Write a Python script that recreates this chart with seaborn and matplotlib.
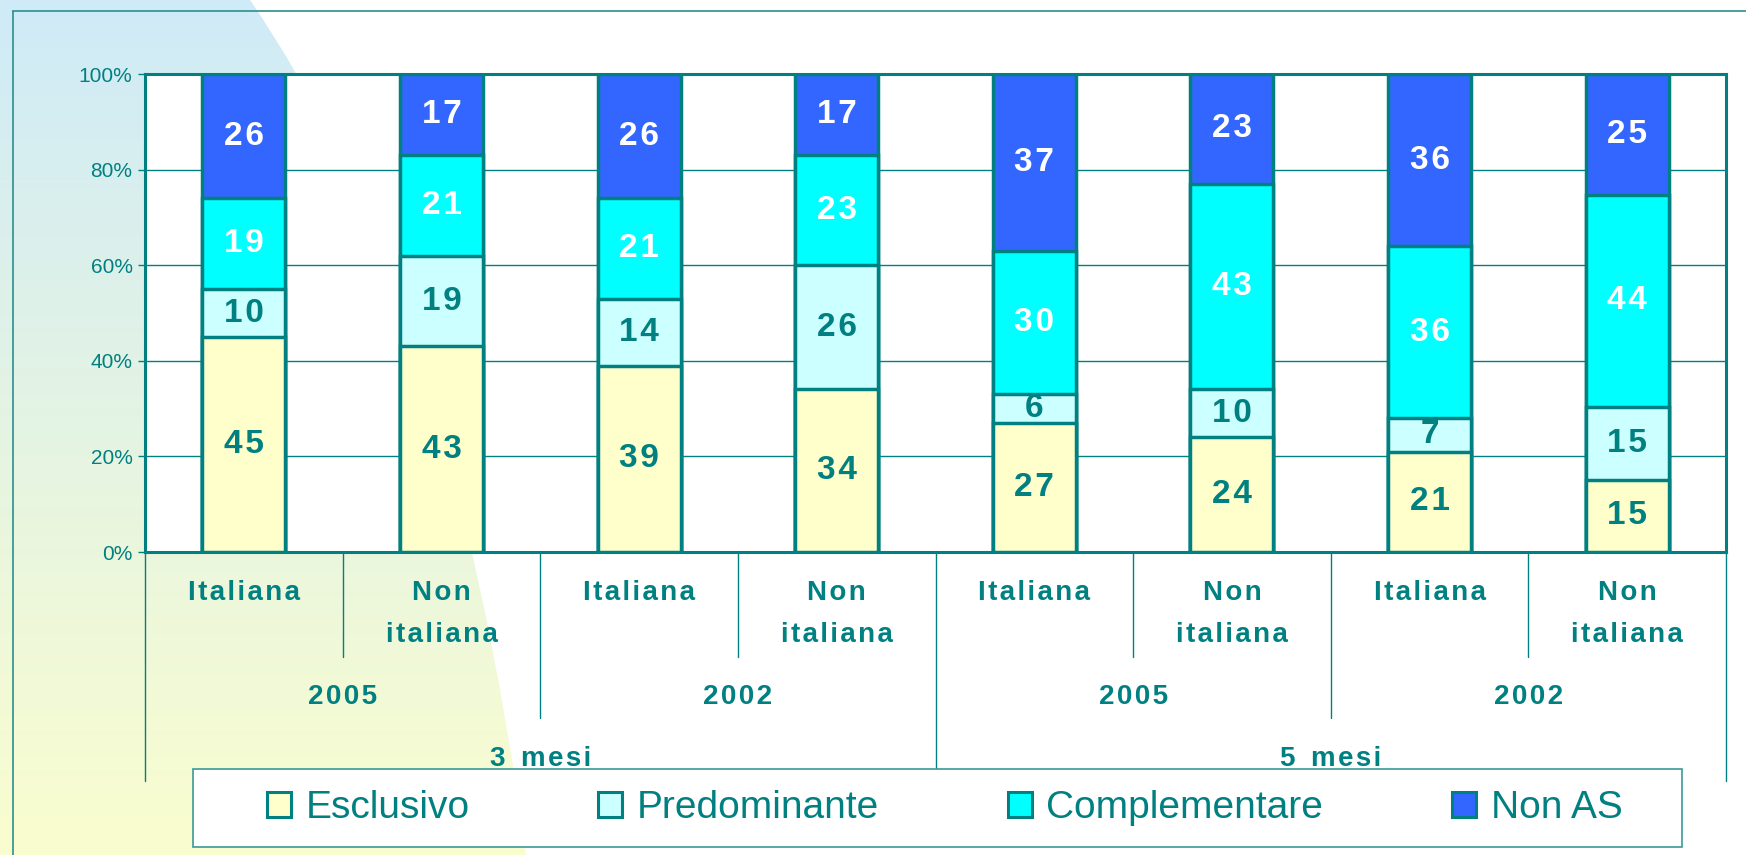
import numpy as np
import pandas as pd
import seaborn as sns
import matplotlib
matplotlib.use("Agg")
import matplotlib.pyplot as plt
from matplotlib.patches import Patch, Rectangle, PathPatch
from matplotlib.path import Path
from matplotlib.transforms import blended_transform_factory

# dati (percentuali per tipo di allattamento)
gruppi = ["3 mesi", "3 mesi", "3 mesi", "3 mesi", "5 mesi", "5 mesi", "5 mesi", "5 mesi"]
anni = ["2005", "2005", "2002", "2002", "2005", "2005", "2002", "2002"]
cittadinanza = ["Italiana", "Non\nitaliana", "Italiana", "Non\nitaliana",
                "Italiana", "Non\nitaliana", "Italiana", "Non\nitaliana"]
esclusivo = [45, 43, 39, 34, 27, 24, 21, 15]
predominante = [10, 19, 14, 26, 6, 10, 7, 15]
complementare = [19, 21, 21, 23, 30, 43, 36, 44]
non_as = [26, 17, 26, 17, 37, 23, 36, 25]

serie = ["Esclusivo", "Predominante", "Complementare", "Non AS"]
colori = ["#FFFFCC", "#CCFFFF", "#00FFFF", "#3366FF"]
col_testo = ["#008080", "#008080", "white", "white"]
teal = "#008080"

W, H = 1746, 855
HAIR = "\u200a"

sns.set_style("white")
plt.rcParams["font.family"] = ["Liberation Sans", "DejaVu Sans"]

df = pd.DataFrame({"cat": [f"{g} {a} {c}" for g, a, c in zip(gruppi, anni, cittadinanza)],
                   "Esclusivo": esclusivo, "Predominante": predominante,
                   "Complementare": complementare, "Non AS": non_as})
tot = df[serie].sum(axis=1)
pct = df[serie].div(tot, axis=0) * 100
cum = pct.cumsum(axis=1)
for s in serie:
    df["cum_" + s] = cum[s]
order = list(df["cat"])

fig = plt.figure(figsize=(W / 100, H / 100), dpi=100)

# sfondo con sfumatura
bg = fig.add_axes([0, 0, 1, 1], zorder=-1)
bg.set_xlim(0, W)
bg.set_ylim(H, 0)
bg.axis("off")
top_c = np.array([207, 235, 248]) / 255
bot_c = np.array([250, 253, 206]) / 255
t = np.linspace(0, 1, 256)[:, None, None]
grad = top_c * (1 - t) + bot_c * t
img = bg.imshow(grad, extent=[0, W, H, 0], aspect="auto")
shape = Path([(0, 0), (250, 0), (450, 290), (526, H), (0, H), (0, 0)],
             [Path.MOVETO, Path.LINETO, Path.CURVE3, Path.CURVE3, Path.LINETO, Path.CLOSEPOLY])
clip = PathPatch(shape, transform=bg.transData, facecolor="none", edgecolor="none")
bg.add_patch(clip)
img.set_clip_path(clip)
bg.plot([13, W], [11, 11], color="#2a8f8f", lw=1.2)
bg.plot([13, 13], [11, H], color="#2a8f8f", lw=1.2)

ax = fig.add_axes([145 / W, (H - 552) / H, 1581 / W, 478 / H])
ax.set_facecolor("white")

# barre sovrapposte: dal totale cumulato verso il basso
for s, c in zip(serie[::-1], colori[::-1]):
    sns.barplot(data=df, x="cat", y="cum_" + s, order=order, color=c, saturation=1,
                width=0.42, edgecolor=teal, linewidth=2.5, errorbar=None, ax=ax, zorder=3)

for i in range(len(order)):
    for s, tc in zip(serie, col_testo):
        yc = cum.loc[i, s] - pct.loc[i, s] / 2
        ax.text(i, yc, HAIR.join(str(df.loc[i, s])), ha="center", va="center", color=tc,
                fontsize=24, fontweight="bold", zorder=5)

ax.set_ylim(0, 100)
ax.set_xlim(-0.5, len(order) - 0.5)
ax.set_yticks([0, 20, 40, 60, 80, 100])
ax.set_yticklabels([f"{v}%" for v in [0, 20, 40, 60, 80, 100]])
ax.tick_params(axis="y", colors=teal, labelsize=15, length=5, width=1, pad=4, direction="out", left=True)
ax.tick_params(axis="x", bottom=False, labelbottom=False)
ax.yaxis.grid(True, color=teal, lw=1)
ax.set_axisbelow(True)
for sp in ax.spines.values():
    sp.set_color(teal)
    sp.set_linewidth(2.2)
ax.set_xlabel("")
ax.set_ylabel("")

# etichette gerarchiche sotto l'asse
tr = blended_transform_factory(ax.transData, ax.transAxes)


def spaced(s):
    return "  ".join(HAIR.join(w) for w in s.split(" "))


def ya(px):
    return (552 - px) / 478


lab_kw = dict(ha="center", va="center", color=teal, fontweight="bold", fontsize=20, transform=tr)
for i, c in enumerate(cittadinanza):
    righe = c.split("\n")
    ax.text(i, ya(593), spaced(righe[0]), **lab_kw)
    if len(righe) > 1:
        ax.text(i, ya(635), spaced(righe[1]), **lab_kw)
for k in range(0, len(anni), 2):
    ax.text(k + 0.5, ya(697), spaced(anni[k]), **lab_kw)
for k in range(0, len(gruppi), 4):
    ax.text(k + 1.5, ya(759), spaced(gruppi[k]), **lab_kw)

n = len(order)
for b in range(n + 1):
    x = b - 0.5
    if b % 4 == 0:
        yb = ya(781)
    elif b % 2 == 0:
        yb = ya(718)
    else:
        yb = ya(657)
    ax.plot([x, x], [0, yb], color=teal, lw=1, transform=tr, clip_on=False, zorder=1)

# legenda
box = Rectangle((193 / W, 1 - 847 / H), (1682 - 193) / W, 78 / H, transform=fig.transFigure,
                facecolor="white", edgecolor="#3a9a9a", lw=1.2, zorder=3)
fig.add_artist(box)
handles = [Patch(facecolor=c, edgecolor=teal, lw=2.2) for c in colori]
leg = fig.legend(handles, serie, loc="center", bbox_to_anchor=(944.5 / W, 1 - 808 / H), ncol=4,
                 frameon=False, fontsize=28, handlelength=0.62, handleheight=0.62,
                 handletextpad=0.38, columnspacing=3.3, labelcolor=teal)
leg.set_zorder(6)

fig.savefig("out.png", dpi=100)
